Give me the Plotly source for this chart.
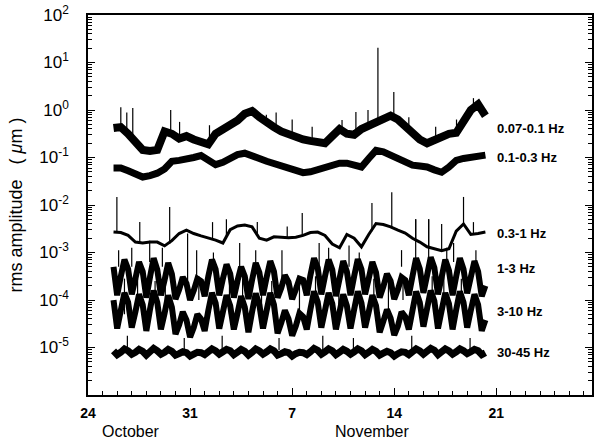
import numpy as np
import pandas as pd
import plotly.graph_objects as go

BASE = pd.Timestamp("1993-10-24")

# ---------------- data (log10 of rms amplitude in micrometres) ----------------
# smooth series sampled every 12 h from Oct 25 18:00
smooth_time = pd.date_range("1993-10-25 18:00", periods=52, freq="12h")
band_007_01 = [-0.38, -0.36, -0.50, -0.68, -0.84, -0.86, -0.84, -0.45, -0.50, -0.60,
               -0.55, -0.62, -0.68, -0.72, -0.50, -0.42, -0.34, -0.22, -0.08, -0.02,
               -0.15, -0.27, -0.36, -0.45, -0.52, -0.57, -0.62, -0.65, -0.68, -0.70,
               -0.55, -0.40, -0.50, -0.52, -0.40, -0.33, -0.27, -0.20, -0.12, -0.20,
               -0.35, -0.50, -0.62, -0.70, -0.64, -0.55, -0.50, -0.48, -0.25, 0.00,
               0.12, -0.12]
band_01_03 = [-1.22, -1.22, -1.28, -1.35, -1.41, -1.38, -1.33, -1.24, -1.08, -1.06,
              -1.04, -1.00, -0.96, -1.07, -1.15, -1.10, -1.01, -0.94, -0.91, -0.95,
              -1.02, -1.08, -1.13, -1.18, -1.22, -1.26, -1.32, -1.30, -1.26, -1.20,
              -1.16, -1.12, -1.12, -1.17, -1.20, -1.02, -0.85, -0.88, -0.95, -1.04,
              -1.12, -1.16, -1.18, -1.20, -1.26, -1.31, -1.20, -1.06, -1.02, -0.99,
              -0.97, -0.95]
band_03_1 = [-2.57, -2.58, -2.64, -2.78, -2.80, -2.78, -2.78, -2.86, -2.75, -2.60,
             -2.53, -2.60, -2.65, -2.69, -2.74, -2.80, -2.52, -2.44, -2.42, -2.46,
             -2.70, -2.74, -2.67, -2.68, -2.69, -2.68, -2.64, -2.58, -2.57, -2.64,
             -2.82, -2.90, -2.62, -2.70, -2.88, -2.62, -2.39, -2.41, -2.46, -2.53,
             -2.59, -2.70, -2.78, -2.88, -2.92, -2.96, -2.92, -2.55, -2.40, -2.62,
             -2.60, -2.57]

# diurnal series sampled every 6 h from Oct 25 18:00
diurnal_time = pd.date_range("1993-10-25 18:00", periods=103, freq="6h")
band_1_3 = [-3.30,
    -3.90, -3.50, -3.15, -3.35,  -3.88, -3.55, -3.20, -3.40,  -3.95, -3.52, -3.12, -3.36,
    -3.90, -3.58, -3.22, -3.45,  -3.98, -3.78, -3.52, -3.65,  -4.00, -3.80, -3.55, -3.60,
    -3.92, -3.50, -3.15, -3.35,  -3.90, -3.55, -3.25, -3.45,  -3.95, -3.60, -3.30, -3.50,
    -3.98, -3.58, -3.22, -3.42,  -3.90, -3.52, -3.18, -3.40,  -3.95, -3.75, -3.48, -3.62,
    -3.98, -3.78, -3.55, -3.58,  -3.90, -3.48, -3.12, -3.32,  -3.88, -3.50, -3.15, -3.36,
    -3.92, -3.55, -3.18, -3.40,  -3.90, -3.50, -3.14, -3.35,  -3.88, -3.55, -3.20, -3.42,
    -3.95, -3.72, -3.45, -3.60,  -3.98, -3.78, -3.52, -3.58,  -3.90, -3.50, -3.12, -3.34,
    -3.85, -3.48, -3.10, -3.32,  -3.88, -3.52, -3.15, -3.38,  -3.90, -3.50, -3.12, -3.35,
    -3.86, -3.52, -3.18, -3.40,  -3.92, -3.70]
band_3_10 = [-4.00,
    -4.60, -4.22, -3.85, -4.05,  -4.58, -4.25, -3.88, -4.10,  -4.65, -4.20, -3.80, -4.05,
    -4.62, -4.28, -3.90, -4.15,  -4.72, -4.52, -4.25, -4.42,  -4.78, -4.58, -4.30, -4.40,
    -4.65, -4.22, -3.85, -4.06,  -4.60, -4.25, -3.90, -4.12,  -4.62, -4.28, -3.92, -4.15,
    -4.68, -4.25, -3.86, -4.10,  -4.60, -4.22, -3.85, -4.10,  -4.70, -4.48, -4.22, -4.40,
    -4.75, -4.55, -4.28, -4.35,  -4.62, -4.20, -3.82, -4.04,  -4.58, -4.22, -3.85, -4.08,
    -4.62, -4.25, -3.88, -4.12,  -4.60, -4.20, -3.82, -4.06,  -4.58, -4.25, -3.90, -4.12,
    -4.68, -4.45, -4.20, -4.38,  -4.74, -4.55, -4.25, -4.35,  -4.62, -4.22, -3.82, -4.05,
    -4.56, -4.18, -3.80, -4.02,  -4.60, -4.22, -3.85, -4.08,  -4.62, -4.20, -3.82, -4.05,
    -4.58, -4.22, -3.88, -4.10,  -4.65, -4.42]
band_30_45 = [-5.07,
    -5.15, -5.10, -5.03, -5.07,  -5.14, -5.10, -5.04, -5.08,  -5.16, -5.09, -5.02, -5.07,
    -5.14, -5.10, -5.04, -5.08,  -5.16, -5.13, -5.09, -5.11,  -5.18, -5.14, -5.10, -5.11,
    -5.15, -5.09, -5.03, -5.07,  -5.14, -5.09, -5.04, -5.07,  -5.15, -5.10, -5.04, -5.08,
    -5.16, -5.10, -5.03, -5.07,  -5.14, -5.09, -5.03, -5.07,  -5.16, -5.13, -5.09, -5.11,
    -5.18, -5.13, -5.10, -5.11,  -5.15, -5.09, -5.02, -5.06,  -5.14, -5.09, -5.03, -5.07,
    -5.15, -5.10, -5.04, -5.08,  -5.14, -5.09, -5.03, -5.07,  -5.15, -5.10, -5.04, -5.08,
    -5.16, -5.12, -5.08, -5.11,  -5.18, -5.13, -5.09, -5.10,  -5.15, -5.09, -5.03, -5.07,
    -5.14, -5.08, -5.02, -5.06,  -5.15, -5.09, -5.03, -5.07,  -5.14, -5.09, -5.03, -5.07,
    -5.13, -5.09, -5.04, -5.07,  -5.15, -5.11]

# spikes: day offset from Oct 24, base log10, top log10
spike_day = [2.25, 2.66, 3.07, 5.67, 6.28, 8.33, 12.23, 12.9, 14.0, 15.37, 17.42, 18.37,
             19.2, 19.88, 20.97, 22.0, 23.84, 25.27, 26.43,
             1.98, 3.55, 5.6, 8.54, 9.49, 11.61, 13.66, 14.69, 19.47, 20.83, 22.47, 23.36,
             24.25, 25.75, 26.43,
             3.0, 4.23, 6.83, 7.45, 10.4, 13.3, 15.85, 17.9, 22.47, 23.36, 25.07,
             2.1, 5.1, 8.6, 11.5, 16.5, 18.6, 21.5, 24.6, 26.6,
             2.5, 5.3, 9.7, 11.9, 14.5, 17.2, 20.6, 24.4,
             3.4, 4.6, 7.6, 10.6, 12.6, 15.6, 19.6, 21.6, 23.6, 25.6,
             2.7, 6.6, 9.2, 13.1, 16.1, 18.2, 22.2, 26.2]
spike_base = [-0.36, -0.45, -0.57, -0.48, -0.58, -0.70, -0.27, -0.35, -0.55, -0.65, -0.45, -0.50,
              -0.33, -0.27, -0.13, -0.40, -0.63, -0.48, 0.05,
              -2.57, -2.79, -2.82, -2.70, -2.70, -2.60, -2.69, -2.64, -2.55, -2.46, -2.72, -2.88,
              -2.96, -2.40, -2.62,
              -3.3, -3.2, -3.6, -3.5, -3.35, -3.55, -3.3, -3.3, -3.2, -3.2, -3.2,
              -3.3, -3.3, -3.3, -3.3, -3.3, -3.3, -3.3, -3.3, -3.3,
              -4.3, -4.2, -4.3, -4.2, -4.3, -4.2, -4.3, -4.2,
              -4.0, -4.0, -4.0, -4.0, -4.0, -4.0, -4.0, -4.0, -4.0, -4.0,
              -5.05, -5.05, -5.05, -5.05, -5.05, -5.05, -5.05, -5.05]
spike_top = [0.06, -0.05, 0.04, 0.00, -0.25, -0.32, -0.10, -0.05, -0.20, -0.35, -0.21, -0.04,
             0.00, 1.31, 0.38, -0.15, -0.35, -0.20, 0.25,
             -1.83, -2.36, -2.04, -2.36, -2.30, -2.36, -2.45, -2.17, -1.96, -1.73, -2.30, -2.30,
             -2.40, -1.83, -2.36,
             -2.9, -2.75, -2.6, -2.95, -2.8, -2.95, -2.8, -2.85, -2.3, -2.3, -2.8,
             -2.95, -2.9, -3.0, -2.95, -2.9, -3.0, -2.95, -2.9, -2.95,
             -3.55, -3.5, -3.6, -3.5, -3.55, -3.5, -3.6, -3.5,
             -3.55, -3.6, -3.5, -3.55, -3.6, -3.5, -3.55, -3.6, -3.5, -3.55,
             -4.75, -4.8, -4.75, -4.8, -4.75, -4.8, -4.75, -4.8]

labels = ["0.07-0.1 Hz", "0.1-0.3 Hz", "0.3-1 Hz", "1-3 Hz", "3-10 Hz", "30-45 Hz"]
label_level = [-0.38, -0.99, -2.6, -3.33, -4.25, -5.1]

ytick_exp = [-5, -4, -3, -2, -1, 0, 1, 2]
xtick_day = [0, 7, 14, 21, 28]
xtick_text = ["24", "31", "7", "14", "21"]

# ---------------- figure ----------------
fig = go.Figure()

def add_band(tm, vals, width):
    fig.add_trace(go.Scatter(x=tm, y=np.power(10.0, vals), mode="lines",
                             line=dict(color="black", width=width),
                             showlegend=False, hoverinfo="skip"))

add_band(smooth_time, band_007_01, 8)
add_band(smooth_time, band_01_03, 7)
add_band(smooth_time, band_03_1, 3)
add_band(diurnal_time, band_1_3, 6)
add_band(diurnal_time, band_3_10, 6)
add_band(diurnal_time, band_30_45, 7)

sx, sy = [], []
for d, b, t in zip(spike_day, spike_base, spike_top):
    tt = BASE + pd.Timedelta(days=d)
    sx += [tt, tt, None]
    sy += [10 ** b, 10 ** t, None]
fig.add_trace(go.Scatter(x=sx, y=sy, mode="lines", line=dict(color="black", width=1.2),
                         showlegend=False, hoverinfo="skip", connectgaps=False))

label_x = BASE + pd.Timedelta(days=27.9)
for lab, lv in zip(labels, label_level):
    fig.add_annotation(x=label_x, y=lv, xref="x", yref="y", text="<b>%s</b>" % lab,
                       showarrow=False, xanchor="left", yanchor="middle",
                       font=dict(family="Liberation Sans, Arial", size=13, color="black"))

for txt, d in [("October", 2.95), ("November", 19.5)]:
    fig.add_annotation(x=BASE + pd.Timedelta(days=d), y=-0.095, xref="x", yref="paper",
                       text=txt, showarrow=False, xanchor="center", yanchor="middle",
                       font=dict(family="Liberation Sans, Arial", size=16, color="black"))

minor_vals = []
for e in range(-6, 2):
    for m in range(2, 10):
        minor_vals.append(m * 10.0 ** e)

fig.update_layout(
    width=595, height=445,
    margin=dict(l=88, r=1, t=15, b=50),
    paper_bgcolor="white", plot_bgcolor="white",
    font=dict(family="Liberation Sans, Arial", color="black"),
    xaxis=dict(
        type="date",
        range=[BASE, BASE + pd.Timedelta(days=34.56)],
        tickmode="array",
        tickvals=[BASE + pd.Timedelta(days=d) for d in xtick_day],
        ticktext=["<b>%s</b>" % t for t in xtick_text],
        ticks="inside", ticklen=7, tickwidth=1.2, tickcolor="black",
        minor=dict(ticks="inside", ticklen=4, tickwidth=1, tickcolor="black",
                   dtick=86400000.0, tick0=BASE),
        showline=True, linecolor="black", linewidth=1.5, mirror=True,
        showgrid=False, zeroline=False,
        tickfont=dict(size=14, color="black"),
        ticklabelstandoff=4,
    ),
    yaxis=dict(
        type="log",
        range=[-6, 2.0005],
        tickmode="array",
        tickvals=[10.0 ** e for e in ytick_exp],
        ticktext=["10<sup>%d</sup>" % e for e in ytick_exp],
        ticks="inside", ticklen=7, tickwidth=1.2, tickcolor="black",
        minor=dict(ticks="inside", ticklen=4, tickwidth=1, tickcolor="black",
                   tickmode="array", tickvals=minor_vals),
        showline=True, linecolor="black", linewidth=1.5, mirror="ticks",
        showgrid=False, zeroline=False,
        tickfont=dict(size=17, color="black"),
        ticklabelstandoff=14,
        title=dict(text="rms amplitude   ( <i>μ</i>m )", font=dict(size=18, color="black"),
                   standoff=12),
    ),
)

fig.write_html("out.html")
